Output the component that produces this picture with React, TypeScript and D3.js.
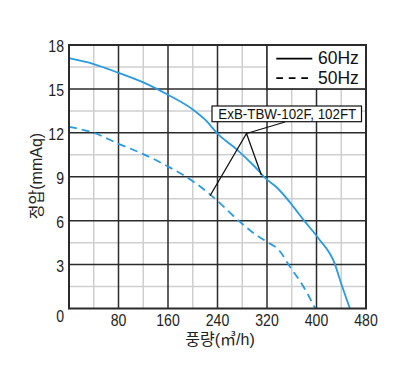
import React from "react";
import * as d3 from "d3";

const xTicks = [0, 80, 160, 240, 320, 400, 480];
const yTicks = [0, 3, 6, 9, 12, 15, 18];
const xMinor = [40, 120, 200, 280, 360, 440];
const yMinor = [1.5, 4.5, 7.5, 10.5, 13.5, 16.5];

const flow60 = [0, 40, 80, 120, 160, 200, 220, 240, 270, 300, 320, 335, 360, 380, 403, 430, 438, 454];
const pres60 = [17.1, 16.7, 16.1, 15.45, 14.6, 13.6, 12.9, 11.95, 10.9, 9.7, 8.8, 8.3, 7.1, 6.0, 4.8, 3.0, 1.95, 0];

const flow50 = [0, 40, 80, 120, 160, 200, 236, 274, 300, 320, 339, 357, 379, 398];
const pres50 = [12.4, 12.0, 11.25, 10.55, 9.7, 8.7, 7.5, 6.0, 5.1, 4.55, 4.0, 2.86, 1.49, 0];

const legendLabels = ["60Hz", "50Hz"];
const modelLabel = "ExB-TBW-102F, 102FT";
const xTitle = "풍량(㎥/h)";
const yTitle = "정압(mmAq)";

const BLUE = "#2a9be0";
const DARK = "#2b2b2b";
const GRID = "#cfcfcf";
const FONT = "'Liberation Sans', Arial, 'Noto Sans CJK KR', sans-serif";
const SX = 0.88;

function NarrowText(props: { x: number; y: number; anchor: string; size: number; children: any }) {
  return (
    <g transform={`translate(${props.x},${props.y}) scale(${SX},1)`}>
      <text x={0} y={0} fontSize={props.size} textAnchor={props.anchor} fill="#222">
        {props.children}
      </text>
    </g>
  );
}

export default function App() {
  const x = d3.scaleLinear().domain([0, 480]).range([69, 366]);
  const y = d3.scaleLinear().domain([0, 18]).range([308.5, 45]);
  const line = d3
    .line<[number, number]>()
    .x((d) => x(d[0]))
    .y((d) => y(d[1]))
    .curve(d3.curveMonotoneX);
  const d60 = line(flow60.map((f, i) => [f, pres60[i]] as [number, number])) || "";
  const d50 = line(flow50.map((f, i) => [f, pres50[i]] as [number, number])) || "";

  const legendX0 = x(320);
  const legendY1 = y(15);

  return (
    <svg
      width={402}
      height={380}
      style={{ position: "absolute", left: 0, top: 0, background: "#fff" }}
      fontFamily={FONT}
    >
      <rect width={402} height={380} fill="#fff" />
      {xMinor.map((v) => (
        <line key={"xm" + v} x1={x(v)} x2={x(v)} y1={y(0)} y2={y(18)} stroke={GRID} strokeWidth={1.5} />
      ))}
      {yMinor.map((v) => (
        <line key={"ym" + v} x1={x(0)} x2={x(480)} y1={y(v)} y2={y(v)} stroke={GRID} strokeWidth={1.5} />
      ))}
      {xTicks.slice(1, -1).map((v) => (
        <line key={"xM" + v} x1={x(v)} x2={x(v)} y1={y(0)} y2={y(18)} stroke={DARK} strokeWidth={1.5} />
      ))}
      {yTicks.slice(1, -1).map((v) => (
        <line key={"yM" + v} x1={x(0)} x2={x(480)} y1={y(v)} y2={y(v)} stroke={DARK} strokeWidth={1.5} />
      ))}

      {/* legend box */}
      <rect
        x={legendX0}
        y={y(18)}
        width={x(480) - legendX0}
        height={legendY1 - y(18)}
        fill="#fff"
        stroke={DARK}
        strokeWidth={1.5}
      />
      <line x1={276.3} x2={312.3} y1={58.7} y2={58.7} stroke="#000" strokeWidth={1.8} />
      <line x1={276.3} x2={308} y1={78.2} y2={78.2} stroke="#000" strokeWidth={1.8} strokeDasharray="6.7,5.8" />
      <text x={318} y={64.3} fontSize={17.5} fill="#111">{legendLabels[0]}</text>
      <text x={318} y={83.7} fontSize={17.5} fill="#111">{legendLabels[1]}</text>

      {/* curves */}
      <path d={d60} fill="none" stroke={BLUE} strokeWidth={1.8} />
      <path d={d50} fill="none" stroke={BLUE} strokeWidth={1.8} strokeDasharray="8,5" />

      {/* annotation */}
      <polyline
        points={`${x(228)},${y(7.7)} 246.5,133.5 ${x(311)},${y(9.1)}`}
        fill="none"
        stroke="#111"
        strokeWidth={1.3}
      />
      <polyline points={`246.5,133.5 285,122`} fill="none" stroke="#111" strokeWidth={1.3} />
      <rect x={212} y={106} width={149.5} height={15.7} fill="#fff" stroke="#111" strokeWidth={1.2} />
      <text
        x={218.3}
        y={119.3}
        fontSize={15.4}
        textLength={138}
        lengthAdjust="spacingAndGlyphs"
        fill="#111"
      >
        {modelLabel}
      </text>

      {/* frame */}
      <rect x={x(0)} y={y(18)} width={x(480) - x(0)} height={y(0) - y(18)} fill="none" stroke={DARK} strokeWidth={2} />

      {/* y ticks */}
      {yTicks.map((v) => (
        <NarrowText key={"yt" + v} x={64} y={v === 0 ? 321.7 : y(v) + 7} anchor="end" size={16}>
          {v}
        </NarrowText>
      ))}
      {xTicks.slice(1).map((v) => (
        <NarrowText key={"xt" + v} x={x(v)} y={325.5} anchor="middle" size={16}>
          {v}
        </NarrowText>
      ))}
      <text x={220} y={344.5} fontSize={16} textAnchor="middle" fill="#222">{xTitle}</text>
      <text
        transform={`translate(41.5,176) rotate(-90)`}
        fontSize={16}
        textAnchor="middle"
        fill="#222"
      >
        {yTitle}
      </text>
    </svg>
  );
}
